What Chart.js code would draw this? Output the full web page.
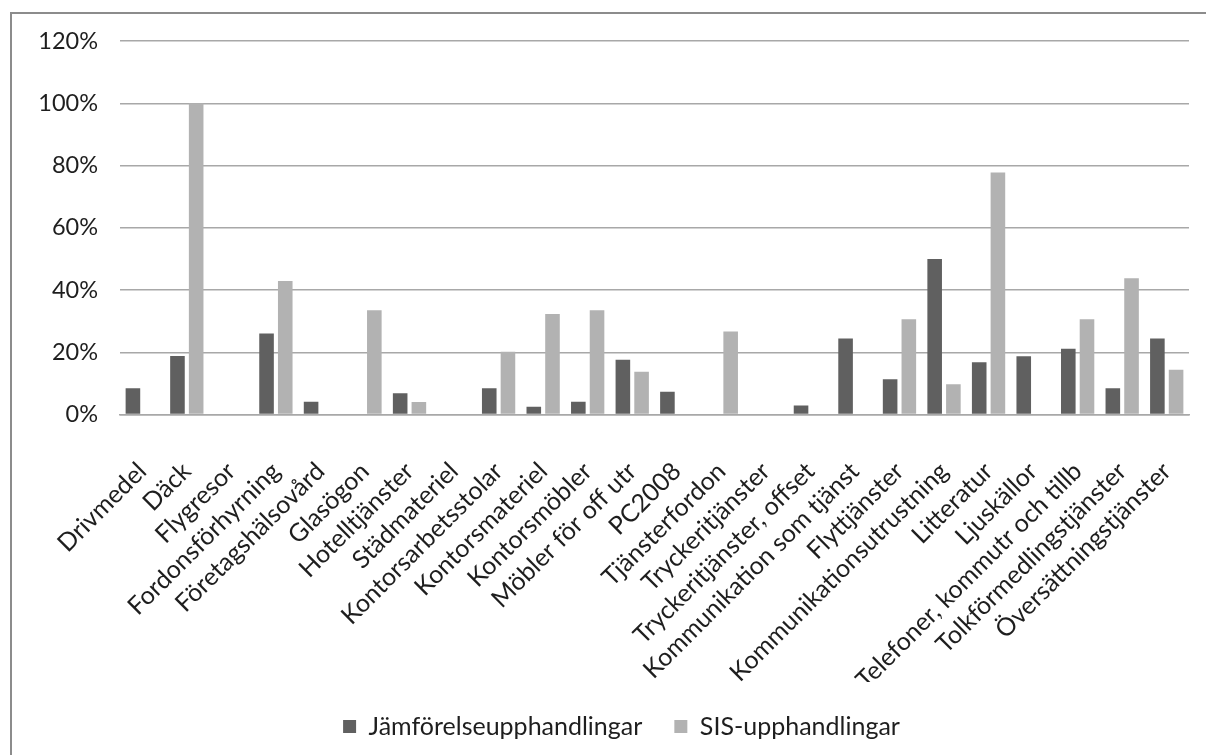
<!DOCTYPE html>
<html>
<head>
<meta charset="utf-8">
<script src="https://cdn.jsdelivr.net/npm/chart.js@4.4.1/dist/chart.umd.min.js"></script>
<style>
  html, body { margin: 0; padding: 0; background: #ffffff; overflow: hidden; }
  #wrap { position: relative; width: 1206px; height: 755px; }
  #frame {
    position: absolute; left: 10px; top: 12px; width: 1400px; height: 1000px;
    border: 2px solid #8c8c8c; box-sizing: border-box;
  }
  #c { position: absolute; left: 0; top: 5px; }
</style>
</head>
<body>
<div id="wrap">
  <div id="frame"></div>
  <canvas id="c" width="1206" height="750"></canvas>
</div>
<script>
// Procurement categories
const categories = [
  'Drivmedel', 'Däck', 'Flygresor', 'Fordonsförhyrning', 'Företagshälsovård',
  'Glasögon', 'Hotelltjänster', 'Städmateriel', 'Kontorsarbetsstolar',
  'Kontorsmateriel', 'Kontorsmöbler', 'Möbler för off utr', 'PC2008',
  'Tjänsterfordon', 'Tryckeritjänster', 'Tryckeritjänster, offset',
  'Kommunikation som tjänst', 'Flyttjänster', 'Kommunikationsutrustning',
  'Litteratur', 'Ljuskällor', 'Telefoner, kommutr och tillb',
  'Tolkförmedlingstjänster', 'Översättningstjänster'
];

// Share (%) per category
const jamforelse = [
  8.4, 18.8, null, 26.0, 4.1, null, 6.8, null, 8.4, 2.5, 4.1, 17.6, 7.3,
  null, null, 2.9, 24.4, 11.3, 50.0, 16.8, 18.7, 21.1, 8.4, 24.4
];
const sis = [
  null, 100.0, null, 42.9, null, 33.5, 4.0, null, 20.2, 32.3, 33.5, 13.7, null,
  26.7, null, null, null, 30.6, 9.7, 77.8, null, 30.6, 43.8, 14.4
];

const seriesNames = ['Jämförelseupphandlingar', 'SIS-upphandlingar'];
const yTicks = [0, 20, 40, 60, 80, 100, 120];

const FONT = 'Lato, "Open Sans", sans-serif';
const TEXT = '#1e1e1e';

// Nudge the legend row a little to the right of the canvas centre
const legendShift = {
  id: 'legendShift',
  afterLayout(chart) {
    const l = chart.legend;
    if (l) { l.left += 22; l.right += 22; }
  }
};

new Chart(document.getElementById('c'), {
  type: 'bar',
  data: {
    labels: categories,
    datasets: [
      { label: seriesNames[0], data: jamforelse, backgroundColor: '#606060' },
      { label: seriesNames[1], data: sis, backgroundColor: '#b2b2b2' }
    ]
  },
  plugins: [legendShift],
  options: {
    responsive: false,
    animation: false,
    devicePixelRatio: 1,
    layout: { padding: { left: 10, right: 17, top: 35, bottom: 6 } },
    datasets: {
      bar: { categoryPercentage: 0.84, barPercentage: 0.78 }
    },
    scales: {
      x: {
        grid: { display: false, drawTicks: false },
        border: { display: true, color: '#a8a8a8', width: 1.5 },
        ticks: {
          autoSkip: false, maxRotation: 45, minRotation: 45,
          padding: 42, color: TEXT,
          font: { family: FONT, size: 25 }
        },
        afterFit: (s) => {
          s.height = 267.5;
          s.paddingLeft = 0;
          s.paddingRight = 0;
        }
      },
      y: {
        min: 0, max: 120,
        afterBuildTicks: (s) => { s.ticks = yTicks.map(v => ({ value: v })); },
        grid: { color: '#a8a8a8', lineWidth: 1.5, drawTicks: false },
        border: { display: false },
        ticks: {
          padding: 22, color: TEXT,
          font: { family: FONT, size: 23.5 },
          callback: (v) => v + '%'
        },
        afterFit: (s) => { s.width = 110; }
      }
    },
    plugins: {
      legend: {
        position: 'bottom',
        labels: {
          boxWidth: 13, boxHeight: 13, padding: 32, color: TEXT,
          font: { family: FONT, size: 25 }
        }
      },
      tooltip: { enabled: false }
    }
  }
});
</script>
</body>
</html>
